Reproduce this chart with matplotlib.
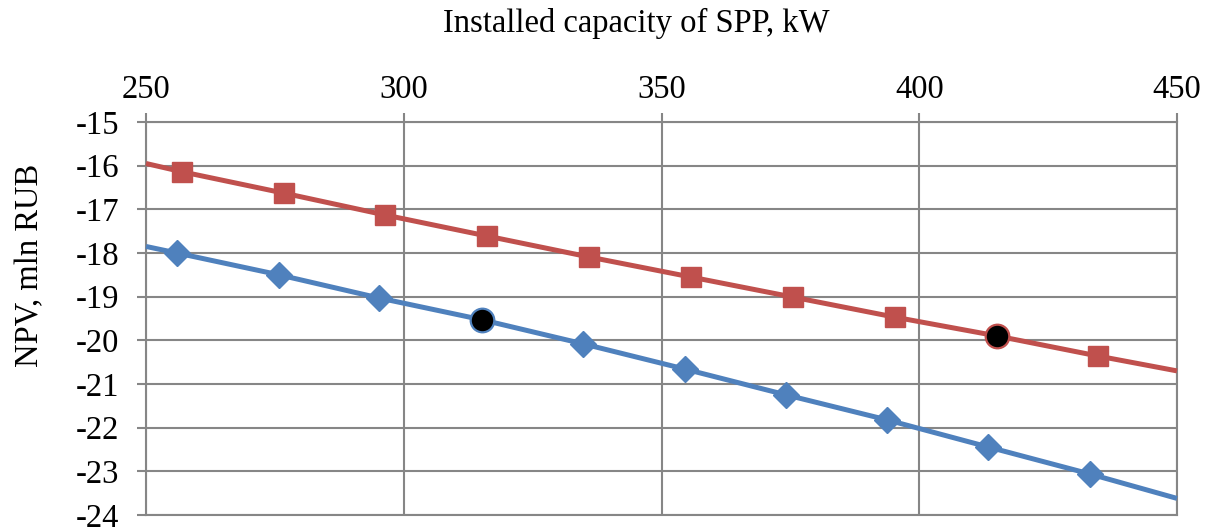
import matplotlib
matplotlib.use("Agg")
import matplotlib.pyplot as plt

# NPV vs installed capacity of the solar power plant, two scenarios
red_x = [257.0, 276.8, 296.4, 316.1, 335.9, 355.7, 375.5, 395.3, 415.1, 434.7]
red_y = [-16.14, -16.63, -17.13, -17.61, -18.09, -18.55, -19.01, -19.47, -19.90, -20.36]
blue_x = [256.0, 275.8, 295.2, 315.2, 334.8, 354.6, 374.2, 393.7, 413.3, 433.1]
blue_y = [-18.00, -18.50, -19.03, -19.53, -20.08, -20.66, -21.25, -21.82, -22.44, -23.06]

# line ends at the axis borders
edge_x = [250, 450]
red_edge_y = [-15.95, -20.70]
blue_edge_y = [-17.85, -23.62]

# highlighted (optimal) points: index into each series
red_mark = 8
blue_mark = 3

x_ticks = [250, 300, 350, 400, 450]
y_ticks = list(range(-24, -14))

RED = "#C0504D"
BLUE = "#4F81BD"
GRID = "#868686"
FS = 23.5

plt.rcParams["font.family"] = ["Liberation Serif", "DejaVu Serif"]
plt.rcParams["axes.unicode_minus"] = False

fig = plt.figure(figsize=(12.1, 5.27), dpi=100)
ax = fig.add_axes([146 / 1210, 1 - 515 / 527, (1177 - 146) / 1210, (515 - 122) / 527])

for xs, ys, ends, col, mk, ms, hi in [
        (red_x, red_y, red_edge_y, RED, "s", 15, red_mark),
        (blue_x, blue_y, blue_edge_y, BLUE, "D", 13.5, blue_mark)]:
    lx = [edge_x[0]] + xs + [edge_x[1]]
    ly = [ends[0]] + ys + [ends[1]]
    ax.plot(lx, ly, color=col, lw=3.6, solid_capstyle="butt", zorder=3, clip_on=False)
    mx = [x for i, x in enumerate(xs) if i != hi]
    my = [y for i, y in enumerate(ys) if i != hi]
    ax.plot(mx, my, ls="none", marker=mk, ms=ms, color=col, mec=col, zorder=4)
    ax.plot([xs[hi]], [ys[hi]], ls="none", marker="o", ms=17, mfc="black",
            mec=col, mew=1.6, zorder=5)

ax.set_xlim(250, 450)
ax.set_ylim(-24, -15)
ax.set_xticks(x_ticks)
ax.set_yticks(y_ticks)
ax.xaxis.tick_top()
ax.tick_params(axis="both", labelsize=FS, colors=GRID, labelcolor="black",
               length=6.5, width=1.5, direction="out")
ax.tick_params(axis="x", pad=6)
ax.tick_params(axis="y", pad=13)
ax.grid(True, color=GRID, lw=1.5)
ax.set_axisbelow(True)
for s in ax.spines.values():
    s.set_color(GRID)
    s.set_linewidth(1.5)

# axis titles placed on the figure
fig.text(636 / 1210, 1 - 23 / 527, "Installed capacity of SPP, kW",
         fontsize=FS, ha="center", va="center")
fig.text(30 / 1210, 1 - 265 / 527, "NPV, mln RUB", fontsize=FS,
         rotation=90, ha="center", va="center")

fig.savefig("out.png", dpi=100)
